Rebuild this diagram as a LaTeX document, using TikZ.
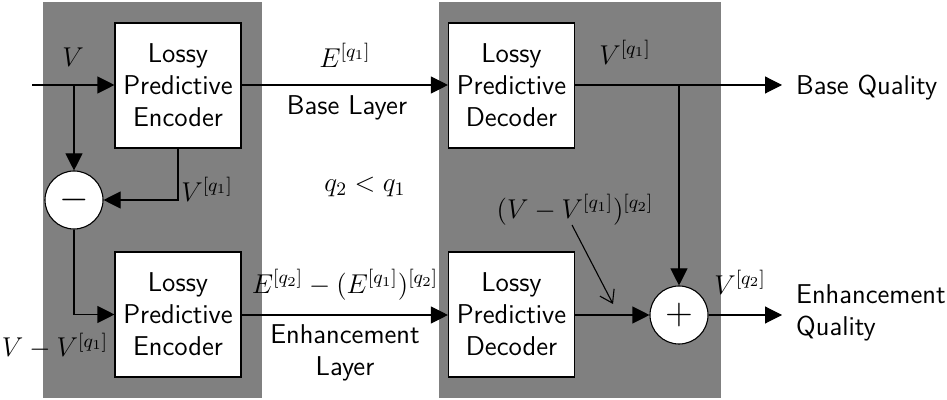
\documentclass[tikz,border=0pt]{standalone}
\usepackage{fix-cm}
\usepackage{fontspec}
\usetikzlibrary{arrows.meta}
\begin{document}
\begin{tikzpicture}[x=0.5pt,y=-0.5pt,
  font=\fontsize{13.6}{16}\selectfont\sffamily,
  line width=0.55pt,
  bigarrow/.style={-{Triangle[length=8.5pt,width=8.5pt]}},
  block/.style={draw,fill=white,minimum width=63pt,minimum height=62.5pt,align=center,inner sep=0pt},
  junction/.style={draw,fill=white,circle,minimum size=29pt,inner sep=0pt,font=\fontsize{19}{19}\selectfont},
  panel/.style={fill=gray,draw=none}]
\useasboundingbox (0,0) rectangle (947,400);
\fill[panel] (43,2) rectangle (262,398);
\fill[panel] (439,2) rectangle (721,398);

\node[block] (enc1) at (178,85.5) {Lossy\\Predictive\\Encoder};
\node[block] (enc2) at (178,314.5) {Lossy\\Predictive\\Encoder};
\node[block] (dec1) at (511.5,85.5) {Lossy\\Predictive\\Decoder};
\node[block] (dec2) at (511.5,314.5) {Lossy\\Predictive\\Decoder};
\node[junction] (minus) at (74,200) {$-$};
\node[junction] (plus) at (679,315) {$+$};

\coordinate (in) at (32,85);
\coordinate (b1) at (74,85);
\coordinate (b2) at (679,85);
\coordinate (out1) at (782,85);
\coordinate (out2) at (782,315);

\draw[bigarrow] (in) -- (b1) -- (enc1.west |- in);
\draw[bigarrow] (b1) -- (minus.north);
\draw[bigarrow] (enc1.south) |- (minus.east);
\draw[bigarrow] (minus.south) |- (enc2.west);
\draw[bigarrow] (enc1.east |- in) -- (dec1.west |- in);
\draw[bigarrow] (enc2.east |- out2) -- (dec2.west |- out2);
\draw[bigarrow] (dec1.east |- in) -- (out1);
\draw[bigarrow] (b2) -- (plus.north);
\draw[bigarrow] (dec2.east |- out2) -- (plus.west);
\draw[bigarrow] (plus.east) -- (out2);

\node (lV) at (73,57) {$V$};
\node (lVq1a) at (207,189) {$V^{[q_1]}$};
\node (lVdiff) at (55,346) {$V-V^{[q_1]}$};
\node (lEq1) at (345,55) {$E^{[q_1]}$};
\node (lbase) at (347,108) {Base Layer};
\node (lq) at (365,187) {$q_2<q_1$};
\node (lEq2) at (345,285) {$E^{[q_2]}-(E^{[q_1]})^{[q_2]}$};
\node[align=center] (lenh) at (345,353) {Enhancement\\Layer};
\node (lVq1b) at (625,52) {$V^{[q_1]}$};
\node (lres) at (575,210) {$(V-V^{[q_1]})^{[q_2]}$};
\node (lVq2) at (740,282) {$V^{[q_2]}$};
\node[anchor=west] (obase) at (789,88) {Base Quality};
\node[anchor=west,align=left] (oenh) at (789,313) {Enhancement\\Quality};

\coordinate (ptrS) at (572,225);
\coordinate (ptrE) at (613,304);
\draw[-{Straight Barb[length=6pt,width=8pt]}] (ptrS) -- (ptrE);
\end{tikzpicture}
\end{document}
